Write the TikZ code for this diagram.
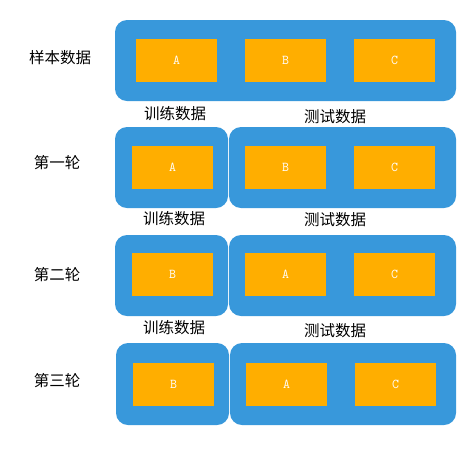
\documentclass[tikz,border=0pt]{standalone}
\usepackage{fontspec}
\newfontfamily\cjk{Noto Sans CJK SC}
\definecolor{panelblue}{RGB}{56,152,219}
\definecolor{cellorange}{RGB}{255,174,0}
\begin{document}
\begin{tikzpicture}[x=1pt,y=-1pt,
  panel/.style={fill=panelblue,draw=none,rounded corners=12pt},
  cell/.style={fill=cellorange,draw=none,minimum width=81pt,minimum height=43pt,inner sep=0pt,text=white,font=\ttfamily\fontsize{13.5}{15}\selectfont},
  rowlabel/.style={font=\cjk\fontsize{15.5}{17}\selectfont,inner sep=0pt},
  grouplabel/.style={font=\cjk\fontsize{15.5}{17}\selectfont,inner sep=0pt}]
\useasboundingbox (0,0) rectangle (473,448);
% Row 0
\fill[panel] (115,20) rectangle (456,101);
\node[cell] (r0a) at (176.5,60.5) {A};
\node[cell] (r0b) at (285.5,60.5) {B};
\node[cell] (r0c) at (394.5,60.5) {C};
\node[rowlabel] (l0) at (60,58) {样本数据};
\node[grouplabel] (t0) at (175,114) {训练数据};
\node[grouplabel] (s0) at (335,117) {测试数据};
% Row 1
\fill[panel] (115,127) rectangle (228,208);
\fill[panel] (229,127) rectangle (456,208);
\node[cell] (r1a) at (172.5,167.5) {A};
\node[cell] (r1b) at (285.5,167.5) {B};
\node[cell] (r1c) at (394.5,167.5) {C};
\node[rowlabel] (l1) at (57,163) {第一轮};
\node[grouplabel] (t1) at (174,219) {训练数据};
\node[grouplabel] (s1) at (335,220) {测试数据};
% Row 2
\fill[panel] (115,235) rectangle (228,316);
\fill[panel] (229,235) rectangle (456,316);
\node[cell] (r2b) at (172.5,274.5) {B};
\node[cell] (r2a) at (285.5,274.5) {A};
\node[cell] (r2c) at (394.5,274.5) {C};
\node[rowlabel] (l2) at (57,275) {第二轮};
\node[grouplabel] (t2) at (174,328) {训练数据};
\node[grouplabel] (s2) at (335,331) {测试数据};
% Row 3
\fill[panel] (116,343) rectangle (229,425);
\fill[panel] (230,343) rectangle (456,425);
\node[cell] (r3b) at (173.5,384.5) {B};
\node[cell] (r3a) at (286.5,384.5) {A};
\node[cell] (r3c) at (395.5,384.5) {C};
\node[rowlabel] (l3) at (57,381) {第三轮};
\end{tikzpicture}
\end{document}
